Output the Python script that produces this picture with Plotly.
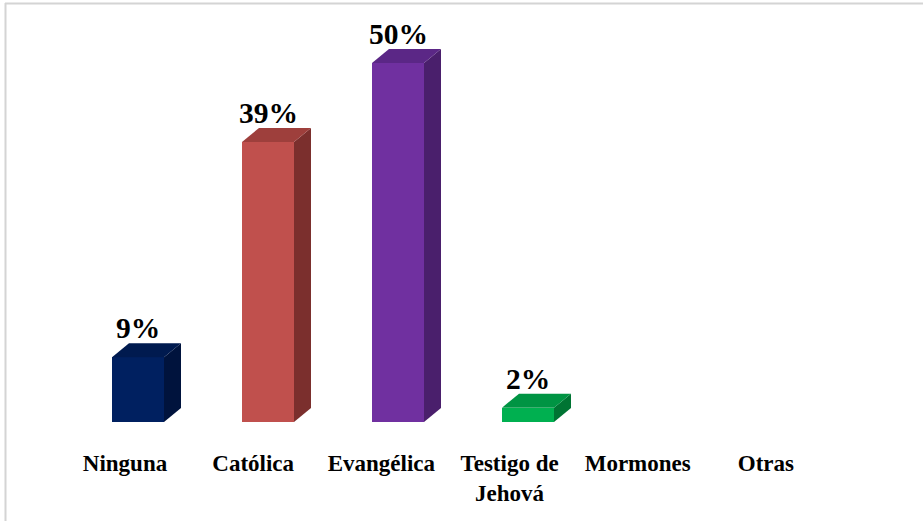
import plotly.graph_objects as go

# Religious affiliation shares (%)
categories = ["Ninguna", "Católica", "Evangélica", "Testigo de<br>Jehová", "Mormones", "Otras"]
values = [9, 39, 50, 2, 0, 0]
front_colors = ["#002060", "#C0504D", "#7030A0", "#00B050", "#4F81BD", "#F79646"]
top_colors = ["#001a4f", "#9e3f3c", "#5b2786", "#009443", "#3f6a9c", "#c97a38"]
side_colors = ["#00133d", "#7b2f2d", "#4a1f6c", "#007433", "#30527a", "#9c5f2b"]

W, H = 923, 521
ML, MR, MT, MB = 73, 70, 27, 99
Y_MAX = 55
plot_w = W - ML - MR
plot_h = H - MT - MB
px_x = plot_w / 6.0          # pixels per category unit
px_y = plot_h / Y_MAX        # pixels per percentage point

BAR_W = 52 / px_x            # front face width
DX = 17 / px_x               # depth offset (horizontal)
DY = 14 / px_y               # depth offset (vertical)

SERIF = "Times New Roman, Liberation Serif, serif"

xs = list(range(len(categories)))

fig = go.Figure()

# front faces
fig.add_trace(go.Bar(
    x=xs, y=values, width=BAR_W,
    marker=dict(color=front_colors, line=dict(width=0)),
    hoverinfo="skip", showlegend=False,
))

# top and side faces for the 3D look
for x, v, tc, sc in zip(xs, values, top_colors, side_colors):
    if v <= 0:
        continue
    l, r = x - BAR_W / 2, x + BAR_W / 2
    fig.add_trace(go.Scatter(
        x=[r, r + DX, r + DX, r, r], y=[0, DY, v + DY, v, 0],
        mode="lines", fill="toself", fillcolor=sc, line=dict(width=0),
        hoverinfo="skip", showlegend=False,
    ))
    fig.add_trace(go.Scatter(
        x=[l, r, r + DX, l + DX, l], y=[v, v, v + DY, v + DY, v],
        mode="lines", fill="toself", fillcolor=tc, line=dict(width=0),
        hoverinfo="skip", showlegend=False,
    ))
    fig.add_annotation(
        x=x, y=v + DY, text=f"<b>{v}%</b>", showarrow=False,
        yanchor="bottom", yshift=-3,
        font=dict(family=SERIF, size=29.5, color="#000000"),
    )

# thin frame line along the top and left edges of the page
def paper_x(px):
    return (px - ML) / plot_w

def paper_y(py):
    return (H - MB - py) / plot_h

fig.add_shape(type="line", xref="paper", yref="paper",
              x0=paper_x(5), x1=paper_x(W), y0=paper_y(3.5), y1=paper_y(3.5),
              line=dict(color="#d4d4d4", width=2))
fig.add_shape(type="line", xref="paper", yref="paper",
              x0=paper_x(5.5), x1=paper_x(5.5), y0=paper_y(3), y1=paper_y(H),
              line=dict(color="#d4d4d4", width=2))

fig.update_layout(
    width=W, height=H,
    margin=dict(l=ML, r=MR, t=MT, b=MB),
    paper_bgcolor="white", plot_bgcolor="white",
    xaxis=dict(
        range=[-0.5, 5.5], showgrid=False, zeroline=False, showline=False,
        tickmode="array",
        tickvals=[i * 0.986 - 0.1 for i in xs],
        ticktext=[f"<b>{c}</b>" for c in categories],
        tickfont=dict(family=SERIF, size=23, color="#000000"),
        ticks="", ticklabelstandoff=25, tickangle=0, fixedrange=True,
    ),
    yaxis=dict(range=[0, Y_MAX], visible=False, fixedrange=True),
    bargap=0,
)

fig.write_html("out.html")
